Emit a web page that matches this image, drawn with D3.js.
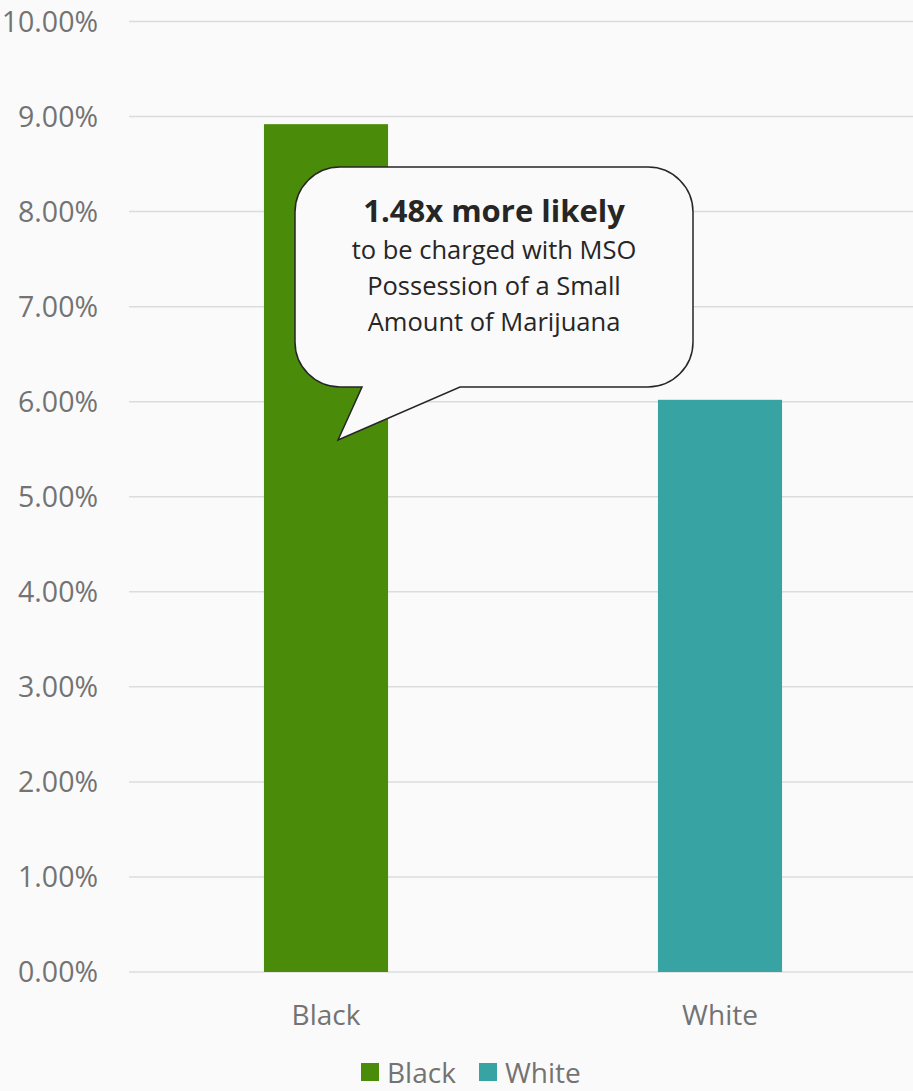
<!DOCTYPE html>
<html>
<head>
<meta charset="utf-8">
<script src="https://cdn.jsdelivr.net/npm/d3@7"></script>
<style>
html,body{margin:0;padding:0;background:#fafafa;}
svg{display:block;}
</style>
</head>
<body>
<svg id="chart" width="913" height="1091"></svg>
<script>
const categories = ["Black", "White"];
const values = [0.0892, 0.0602];
const colors = ["#4a8c0a", "#37a3a3"];
const yTicks = [0, 0.01, 0.02, 0.03, 0.04, 0.05, 0.06, 0.07, 0.08, 0.09, 0.10];
const calloutTitle = "1.48x more likely";
const calloutLines = ["to be charged with MSO", "Possession of a Small", "Amount of Marijuana"];

const W = 913, H = 1091;
const font = "'Open Sans', 'Noto Sans', sans-serif";
const svg = d3.select("#chart");
svg.append("rect").attr("width", W).attr("height", H).attr("fill", "#fafafa");

const x = d3.scaleBand().domain(categories).range([129, 917]).paddingInner(0.685).paddingOuter(0.3425);
const y = d3.scaleLinear().domain([0, 0.10]).range([972, 21.5]);

// gridlines
svg.append("g").selectAll("line").data(yTicks).join("line")
  .attr("x1", 129).attr("x2", W)
  .attr("y1", d => y(d)).attr("y2", d => y(d))
  .attr("stroke", "#dcdcdc").attr("stroke-width", 1.5);

// y axis labels
const yAxis = d3.axisLeft(y).tickValues(yTicks).tickFormat(d3.format(".2%")).tickSize(0).tickPadding(0);
const gy = svg.append("g").attr("transform", "translate(98,0)").call(yAxis);
gy.select(".domain").remove();
gy.selectAll("text").attr("font-family", font).attr("font-size", 28.5).attr("fill", "#737373").attr("dy", "0.35em");

// bars
svg.append("g").selectAll("rect").data(categories).join("rect")
  .attr("x", d => x(d)).attr("width", x.bandwidth())
  .attr("y", (d, i) => y(values[i])).attr("height", (d, i) => y(0) - y(values[i]))
  .attr("fill", (d, i) => colors[i]);

// x axis labels
const xAxis = d3.axisBottom(x).tickSize(0).tickPadding(0);
const gx = svg.append("g").attr("transform", "translate(0,1025)").call(xAxis);
gx.select(".domain").remove();
gx.selectAll("text").attr("font-family", font).attr("font-size", 28).attr("fill", "#737373").attr("dy", 0);

// callout
const bx0 = 295, bx1 = 693, by0 = 167, by1 = 387, r = 45;
const p = d3.path();
p.moveTo(bx0 + r, by0);
p.lineTo(bx1 - r, by0);
p.arcTo(bx1, by0, bx1, by0 + r, r);
p.lineTo(bx1, by1 - r);
p.arcTo(bx1, by1, bx1 - r, by1, r);
p.lineTo(460, by1);
p.lineTo(338, 440);
p.lineTo(362, by1);
p.lineTo(bx0 + r, by1);
p.arcTo(bx0, by1, bx0, by1 - r, r);
p.lineTo(bx0, by0 + r);
p.arcTo(bx0, by0, bx0 + r, by0, r);
p.closePath();
svg.append("path").attr("d", p.toString()).attr("fill", "#fafafa").attr("stroke", "#262626").attr("stroke-width", 1.5);

const cx = (bx0 + bx1) / 2;
svg.append("text").attr("x", cx).attr("y", 222).attr("text-anchor", "middle")
  .attr("font-family", font).attr("font-size", 31).attr("font-weight", "bold").attr("fill", "#262626")
  .text(calloutTitle);
svg.append("g").selectAll("text").data(calloutLines).join("text")
  .attr("x", cx).attr("y", (d, i) => 259 + i * 36).attr("text-anchor", "middle")
  .attr("font-family", font).attr("font-size", 25.5).attr("fill", "#262626")
  .text(d => d);

// legend
const legendX = [361, 479];
const lg = svg.append("g").selectAll("g").data(categories).join("g")
  .attr("transform", (d, i) => `translate(${legendX[i]},1063)`);
lg.append("rect").attr("width", 18).attr("height", 18).attr("fill", (d, i) => colors[i]);
lg.append("text").attr("x", 26).attr("y", 20).attr("font-family", font).attr("font-size", 28)
  .attr("fill", "#737373").text(d => d);
</script>
</body>
</html>
